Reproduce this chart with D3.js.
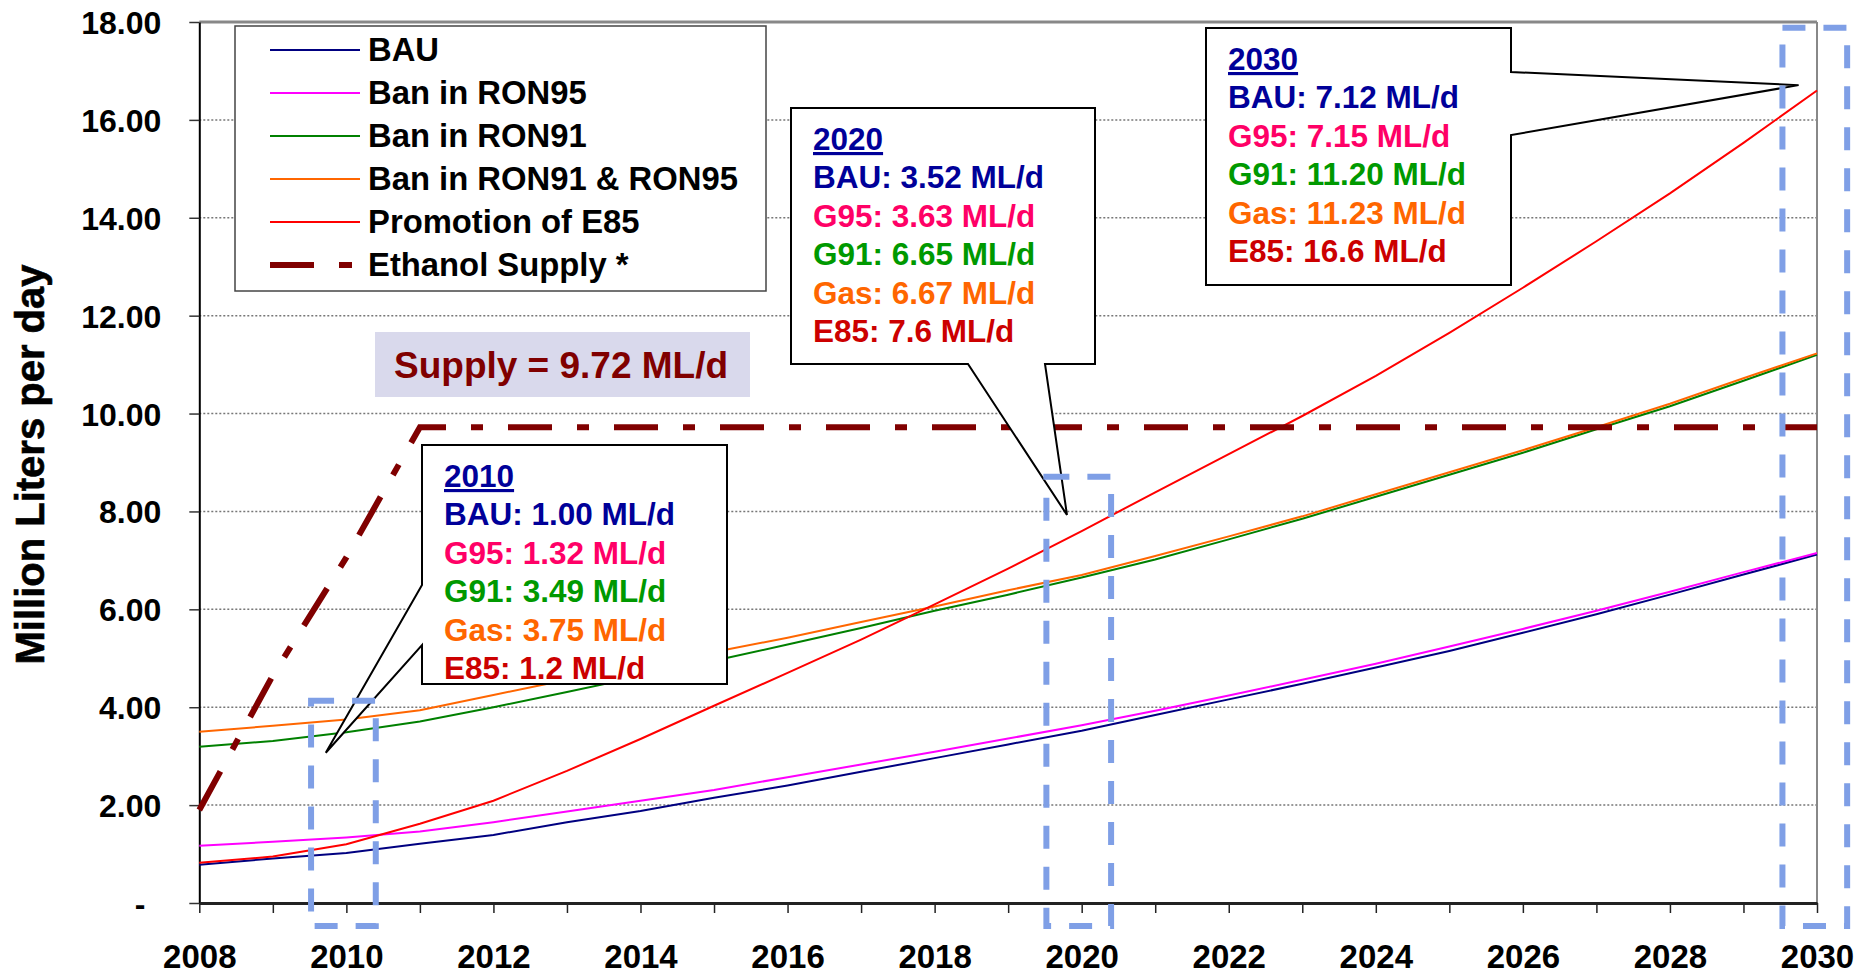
<!DOCTYPE html>
<html>
<head>
<meta charset="utf-8">
<script src="https://cdn.jsdelivr.net/npm/d3@7"></script>
<style>
  html, body { margin: 0; padding: 0; background: #fff; }
  svg { display: block; font-family: "Liberation Sans", Arial, sans-serif; font-weight: bold; }
</style>
</head>
<body>
<div id="chart"></div>
<script>
// Data (million liters per day)
const years = [2008, 2009, 2010, 2011, 2012, 2013, 2014, 2015, 2016, 2017, 2018, 2019,
               2020, 2021, 2022, 2023, 2024, 2025, 2026, 2027, 2028, 2029, 2030];
const bau    = [0.78, 0.91, 1.02, 1.21, 1.39, 1.65, 1.88, 2.15, 2.40, 2.68, 2.96, 3.24,
                3.52, 3.84, 4.16, 4.48, 4.81, 5.15, 5.52, 5.90, 6.30, 6.71, 7.12];
const ron95  = [1.17, 1.25, 1.34, 1.46, 1.65, 1.87, 2.09, 2.31, 2.57, 2.83, 3.09, 3.36,
                3.63, 3.93, 4.24, 4.56, 4.89, 5.24, 5.60, 5.97, 6.36, 6.76, 7.15];
const ron91  = [3.19, 3.31, 3.49, 3.71, 4.00, 4.31, 4.63, 4.95, 5.28, 5.62, 5.97, 6.30,
                6.65, 7.02, 7.43, 7.85, 8.30, 8.75, 9.20, 9.68, 10.15, 10.67, 11.20];
const both   = [3.50, 3.62, 3.75, 3.94, 4.25, 4.56, 4.85, 5.13, 5.42, 5.74, 6.06, 6.39,
                6.70, 7.09, 7.49, 7.90, 8.35, 8.80, 9.25, 9.72, 10.20, 10.72, 11.23];
const e85    = [0.82, 0.95, 1.20, 1.62, 2.09, 2.70, 3.35, 4.03, 4.70, 5.38, 6.10, 6.83,
                7.60, 8.39, 9.17, 9.95, 10.77, 11.65, 12.57, 13.52, 14.50, 15.53, 16.60];
const supply = [1.90, 4.65, 7.06, 9.72, 9.72, 9.72, 9.72, 9.72, 9.72, 9.72, 9.72, 9.72,
                9.72, 9.72, 9.72, 9.72, 9.72, 9.72, 9.72, 9.72, 9.72, 9.72, 9.72];

const seriesNames = ["BAU", "Ban in RON95", "Ban in RON91", "Ban in RON91 & RON95", "Promotion of E85", "Ethanol Supply *"];
const seriesColors = ["#000080", "#FF00FF", "#008000", "#FF6600", "#FF0000", "#800000"];
const seriesValues = [bau, ron95, ron91, both, e85, supply];

const yTicks = [0, 2, 4, 6, 8, 10, 12, 14, 16, 18];
const xLabelYears = [2008, 2010, 2012, 2014, 2016, 2018, 2020, 2022, 2024, 2026, 2028, 2030];

// Callout texts
const calloutTitles = ["2010", "2020", "2030"];
const callout2010 = ["BAU: 1.00 ML/d", "G95: 1.32 ML/d", "G91: 3.49 ML/d", "Gas: 3.75 ML/d", "E85: 1.2 ML/d"];
const callout2020 = ["BAU: 3.52 ML/d", "G95: 3.63 ML/d", "G91: 6.65 ML/d", "Gas: 6.67 ML/d", "E85: 7.6 ML/d"];
const callout2030 = ["BAU: 7.12 ML/d", "G95: 7.15 ML/d", "G91: 11.20 ML/d", "Gas: 11.23 ML/d", "E85: 16.6 ML/d"];
const calloutColors = ["#000099", "#FF0066", "#009900", "#FF6600", "#CC0000"];
// callout pointer tips [year, value]
const calloutTips = [[2009.72, 3.07], [2019.8, 7.93], [2029.75, 16.71]];
// highlight frames [year from, year to, top value, bottom value]
const highlightFrames = [[2009.52, 2010.4, 4.13, -0.47], [2019.52, 2020.4, 8.71, -0.47], [2029.53, 2030.41, 17.88, -0.47]];
const supplyLabel = "Supply = 9.72 ML/d";

// Chart size
const width = 1876, height = 974;

const svg = d3.select("#chart").append("svg")
    .attr("width", width)
    .attr("height", height);

const x = d3.scaleLinear().domain([2008, 2030]).range([199.3, 1817]);
const y = d3.scaleLinear().domain([0, 18]).range([903, 22]);

// Gridlines
svg.append("g")
    .selectAll("line")
    .data(yTicks.filter(v => v > 0 && v < 18))
    .join("line")
    .attr("x1", x(2008)).attr("x2", x(2030))
    .attr("y1", d => y(d)).attr("y2", d => y(d))
    .attr("stroke", "#777")
    .attr("stroke-width", 1.5)
    .attr("stroke-dasharray", "2,2");

// Plot frame top and right
svg.append("line")
    .attr("x1", x(2008)).attr("x2", x(2030))
    .attr("y1", y(18)).attr("y2", y(18))
    .attr("stroke", "#888").attr("stroke-width", 3);
svg.append("line")
    .attr("x1", x(2030)).attr("x2", x(2030))
    .attr("y1", y(18)).attr("y2", y(0))
    .attr("stroke", "#888").attr("stroke-width", 2);

// Y axis
const yAxis = svg.append("g")
    .attr("transform", `translate(${x(2008)},0)`)
    .call(d3.axisLeft(y)
        .tickValues(yTicks)
        .tickSize(10)
        .tickSizeOuter(0)
        .tickPadding(28)
        .tickFormat(d => d === 0 ? "-" : d3.format(".2f")(d)));
yAxis.select(".domain").attr("stroke", "#000").attr("stroke-width", 2);
yAxis.selectAll(".tick line").attr("stroke", "#333").attr("stroke-width", 1.5);
yAxis.selectAll(".tick text")
    .attr("font-size", 32)
    .attr("font-family", "Liberation Sans, Arial, sans-serif")
    .attr("font-weight", "bold")
    .attr("fill", "#000")
    .attr("dy", "0.36em")
    .filter(d => d === 0)
    .attr("x", -54);

// X axis
const xAxis = svg.append("g")
    .attr("transform", `translate(0,${y(0)})`)
    .call(d3.axisBottom(x)
        .tickValues(years)
        .tickSize(10)
        .tickSizeOuter(0)
        .tickFormat(d => xLabelYears.includes(d) ? d : ""));
xAxis.select(".domain").attr("stroke", "#222").attr("stroke-width", 3);
xAxis.selectAll(".tick line").attr("stroke", "#222").attr("stroke-width", 1.5);
xAxis.selectAll(".tick text")
    .attr("font-size", 33)
    .attr("font-family", "Liberation Sans, Arial, sans-serif")
    .attr("font-weight", "bold")
    .attr("fill", "#000")
    .attr("y", 65)
    .attr("dy", 0);

// Y axis title
svg.append("text")
    .attr("transform", `translate(44,${(y(0) + y(18)) / 2 + 2}) rotate(-90)`)
    .attr("text-anchor", "middle")
    .attr("font-size", 40)
    .attr("stroke", "#000")
    .attr("stroke-width", 0.6)
    .text("Million Liters per day");

// Series lines
const line = d3.line()
    .x((d, i) => x(years[i]))
    .y(d => y(d));

seriesValues.forEach((vals, k) => {
    const path = svg.append("path")
        .datum(vals)
        .attr("d", line)
        .attr("fill", "none")
        .attr("stroke", seriesColors[k]);
    if (k === 5) {
        path.attr("stroke-width", 6).attr("stroke-dasharray", "44,25,12,25");
    } else {
        path.attr("stroke-width", 2);
    }
});

// Callout boxes
const boxes = [
    {x0: 422, y0: 445, x1: 727, y1: 684, lines: callout2010},
    {x0: 791, y0: 108, x1: 1095, y1: 364, lines: callout2020},
    {x0: 1206, y0: 28, x1: 1511, y1: 285, lines: callout2030}
];

boxes.forEach((b, i) => {
    const tx = x(calloutTips[i][0]);
    const ty = y(calloutTips[i][1]);
    const p = d3.path();
    p.moveTo(b.x0, b.y0);
    p.lineTo(b.x1, b.y0);
    if (i === 2) {
        p.lineTo(b.x1, 72);
        p.lineTo(tx, ty);
        p.lineTo(b.x1, 135);
    }
    p.lineTo(b.x1, b.y1);
    if (i === 1) {
        p.lineTo(1045, b.y1);
        p.lineTo(tx, ty);
        p.lineTo(968, b.y1);
    }
    p.lineTo(b.x0, b.y1);
    if (i === 0) {
        p.lineTo(b.x0, 645);
        p.lineTo(tx, ty);
        p.lineTo(b.x0, 585);
    }
    p.closePath();

    svg.append("path")
        .attr("d", p.toString())
        .attr("fill", "#fff")
        .attr("stroke", "#000")
        .attr("stroke-width", 2)
        .attr("stroke-linejoin", "miter");

    const g = svg.append("g").attr("font-size", 31.5);
    g.append("text")
        .attr("x", b.x0 + 22)
        .attr("y", b.y0 + 42)
        .attr("fill", "#000099")
        .style("text-decoration", "underline")
        .text(calloutTitles[i]);
    b.lines.forEach((t, j) => {
        g.append("text")
            .attr("x", b.x0 + 22)
            .attr("y", b.y0 + 42 + (j + 1) * 38.4)
            .attr("fill", calloutColors[j])
            .text(t);
    });
});

// Highlight frames
svg.append("g")
    .selectAll("rect")
    .data(highlightFrames)
    .join("rect")
    .attr("x", d => x(d[0]))
    .attr("y", d => y(d[2]))
    .attr("width", d => x(d[1]) - x(d[0]))
    .attr("height", d => y(d[3]) - y(d[2]))
    .attr("fill", "none")
    .attr("stroke", "#7F9FE6")
    .attr("stroke-width", 6)
    .attr("stroke-dasharray", "23,18");

// Supply label
svg.append("rect")
    .attr("x", 375).attr("y", 332)
    .attr("width", 375).attr("height", 65)
    .attr("fill", "#D9D9EC");
svg.append("text")
    .attr("x", 394).attr("y", 378)
    .attr("font-size", 37)
    .attr("fill", "#800000")
    .text(supplyLabel);

// Legend
const legend = svg.append("g");
legend.append("rect")
    .attr("x", 235).attr("y", 26)
    .attr("width", 531).attr("height", 265)
    .attr("fill", "#fff")
    .attr("stroke", "#444")
    .attr("stroke-width", 1.5);

seriesNames.forEach((name, i) => {
    const ly = 50 + i * 43;
    const l = legend.append("line")
        .attr("x1", 270).attr("x2", 360)
        .attr("y1", ly).attr("y2", ly)
        .attr("stroke", seriesColors[i]);
    if (i === 5) {
        l.attr("stroke-width", 6).attr("stroke-dasharray", "44,25,13,25");
    } else {
        l.attr("stroke-width", 2);
    }
    legend.append("text")
        .attr("x", 368)
        .attr("y", ly + 11)
        .attr("font-size", 32.8)
        .attr("fill", "#000")
        .text(name);
});
</script>
</body>
</html>
